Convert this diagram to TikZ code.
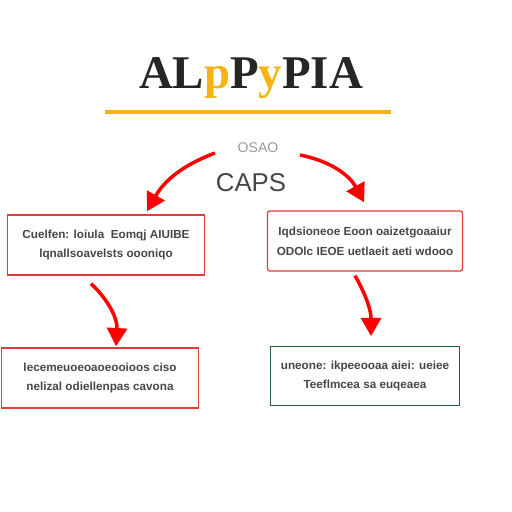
\documentclass[tikz,border=0pt]{standalone}
\usepackage{fontspec}
\setmainfont{Liberation Serif}
\setsansfont{Liberation Sans}
\usetikzlibrary{arrows.meta,positioning,calc}
\definecolor{titleyel}{RGB}{245,180,20}
\definecolor{boxred}{RGB}{226,60,56}
\definecolor{boxgrn}{RGB}{40,95,60}
\definecolor{txtgray}{RGB}{70,70,70}
\tikzset{
  card/.style={draw=boxred,line width=1.1pt,minimum width=5.9cm,minimum height=1.8cm,align=center,font=\sffamily\bfseries\normalsize,text=txtgray,inner sep=2pt},
  flow/.style={-{Triangle[length=5.5mm,width=6mm]},draw=red,line width=3pt},
  lbl/.style={font=\sffamily,text=txtgray,inner sep=1pt}
}
\begin{document}
\begin{tikzpicture}[x=0.03cm,y=-0.03cm]
\useasboundingbox (0,0) rectangle (512,512);
% heading
\node[font=\bfseries\fontsize{40}{40}\selectfont,text=black!85,inner sep=0pt] (title) at (251,78)
  {AL\textcolor{titleyel}{p}P\textcolor{titleyel}{y}PIA};
\draw[titleyel,line width=2.6pt] (105,112) -- (391,112);
\node[lbl,font=\sffamily\large,text=gray!80] (osao) at (258,148) {OSAO};
\node[lbl,font=\sffamily\fontsize{22}{22}\selectfont] (caps) at (251,183) {CAPS};
% boxes
\node[card,minimum width=5.9cm] (b1) at (106,245) {Cuelfen: loiula\ \ Eomqj\ AIUIBE\\[5pt] lqnallsoavelsts oooniqo};
\node[card,minimum width=5.85cm,rounded corners=2pt] (b2) at (365,241) {Iqdsioneoe Eoon oaizetgoaaiur\\[5pt] ODOlc IEOE uetlaeit aeti wdooo};
\node[card,minimum width=5.9cm] (b3) at (100,378) {lecemeuoeoaoeooioos ciso\\[5pt] nelizal odiellenpas cavona};
\node[card,draw=boxgrn,minimum width=5.65cm,minimum height=1.75cm] (b4) at (365,376) {uneone: ikpeeooaa aiei: ueiee\\[5pt] Teeflmcea sa euqeaea};
% arrows
\coordinate (l1) at (215,153);
\coordinate (r1) at (300,155);
\draw[flow] (l1) to[bend right=20] ($(b1.north east)+(-58,-3)$);
\draw[flow] (r1) to[bend left=25] ($(b2.north east)+(-99,-8)$);
\draw[flow] ($(b1.south west)+(84,8)$) to[bend left=25] ($(b3.north west)+(115,-1)$);
\draw[flow] ($(b2.south)+(-10,4)$) to[bend left=15] ($(b4.north)+(6,-10)$);
\end{tikzpicture}
\end{document}
